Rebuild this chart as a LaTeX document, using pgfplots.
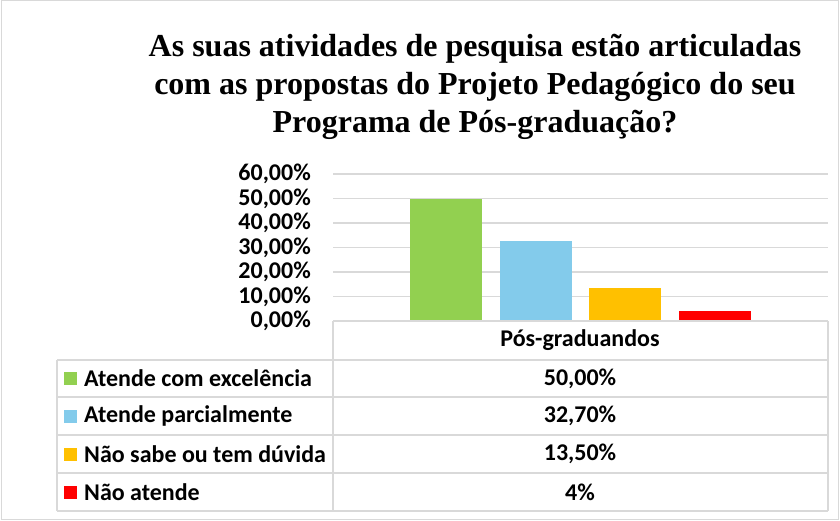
\documentclass[border=0pt]{standalone}
\usepackage{pgfplots}
\pgfplotsset{compat=1.18}
\usepackage{fontspec}
\setmainfont{Liberation Serif}
\newfontfamily\calib{Carlito}
\definecolor{cgreen}{HTML}{92D050}
\definecolor{cblue}{HTML}{83CBEB}
\definecolor{corange}{HTML}{FFC000}
\definecolor{cred}{HTML}{FF0000}
\definecolor{gridgray}{HTML}{D9D9D9}
\begin{document}
\begin{tikzpicture}
\useasboundingbox (0pt,0pt) rectangle (840pt,-521pt);
\draw[gridgray, line width=1pt] (1pt,-1pt) rectangle (838pt,-519pt);
% title
\node[font=\fontsize{32}{38}\selectfont\bfseries, anchor=base] at (475pt,-57pt) {As suas atividades de pesquisa estão articuladas};
\node[font=\fontsize{32}{38}\selectfont\bfseries, anchor=base] at (475pt,-95pt) {com as propostas do Projeto Pedagógico do seu};
\node[font=\fontsize{32}{38}\selectfont\bfseries, anchor=base] at (475pt,-133pt) {Programa de Pós-graduação?};
\begin{axis}[
  at={(333pt,-321pt)}, anchor=south west,
  width=495pt, height=147pt, scale only axis,
  ymin=0, ymax=60, xmin=-0.5, xmax=0.5,
  ytick={0,10,20,30,40,50,60},
  yticklabels={{0,00\%},{10,00\%},{20,00\%},{30,00\%},{40,00\%},{50,00\%},{60,00\%}},
  ymajorgrids, grid style={gridgray, line width=1.2pt},
  axis line style={draw=none}, xtick=\empty, major tick length=0pt,
  yticklabel style={font=\calib\bfseries\fontsize{24}{24}\selectfont, text=black, inner sep=0pt, xshift=-22pt},
  ybar=17.5pt, bar width=72pt, clip=false,
]
\addplot[fill=cgreen, draw=none] coordinates {(0,50.0)};
\addplot[fill=cblue, draw=none] coordinates {(0,32.7)};
\addplot[fill=corange, draw=none] coordinates {(0,13.5)};
\addplot[fill=cred, draw=none] coordinates {(0,4.0)};
\end{axis}
% data table
\begin{scope}[gridgray, line width=1.5pt]
\draw (333pt,-321pt) -- (828pt,-321pt);
\draw (333pt,-321pt) -- (333pt,-511pt);
\draw (828pt,-321pt) -- (828pt,-511pt);
\draw (57pt,-360pt) -- (57pt,-511pt);
\foreach \yy in {360,397,435,473,511} {\draw (57pt,-\yy pt) -- (828pt,-\yy pt);}
\end{scope}
\begin{scope}[every node/.style={font=\calib\bfseries\fontsize{24}{24}\selectfont, inner sep=0pt}]
\node at (580pt,-340pt) {Pós-graduandos};
\fill[cgreen] (64pt,-372pt) rectangle (77pt,-385pt);
\fill[cblue] (64pt,-409.5pt) rectangle (77pt,-422.5pt);
\fill[corange] (64pt,-447.5pt) rectangle (77pt,-460.5pt);
\fill[cred] (64pt,-485.5pt) rectangle (77pt,-498.5pt);
\node[anchor=west] at (84pt,-378.5pt) {Atende com excelência};
\node[anchor=west] at (84pt,-416pt) {Atende parcialmente};
\node[anchor=west] at (84pt,-454pt) {Não sabe ou tem dúvida};
\node[anchor=west] at (84pt,-492pt) {Não atende};
\node at (580pt,-378.5pt) {50,00\%};
\node at (580pt,-416pt) {32,70\%};
\node at (580pt,-454pt) {13,50\%};
\node at (580pt,-492pt) {4\%};
\end{scope}
\end{tikzpicture}
\end{document}
